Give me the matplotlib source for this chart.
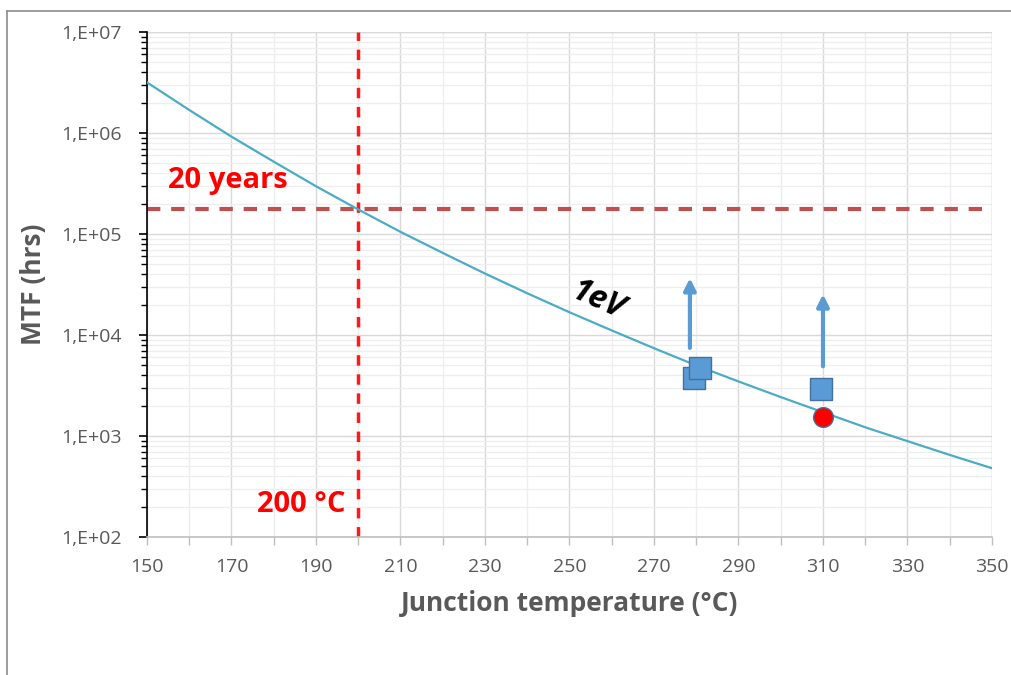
import matplotlib
matplotlib.use("Agg")
import matplotlib.pyplot as plt
from matplotlib.ticker import FixedLocator, LogLocator, NullFormatter
from matplotlib.lines import Line2D

# 1 eV Arrhenius curve
temp = [150, 160, 170, 180, 190, 200, 210, 220, 230, 240, 250,
        260, 270, 280, 290, 300, 310, 320, 330, 340, 350]
mtf = [3.17e6, 1.69e6, 9.2e5, 5.2e5, 2.97e5, 1.75e5, 1.05e5, 6.5e4, 4.06e4,
       2.59e4, 1.68e4, 1.11e4, 7.4e3, 5.0e3, 3.47e3, 2.43e3, 1.72e3, 1.22e3,
       8.9e2, 6.5e2, 4.8e2]

# measured points (squares) and the red point on the curve
sq_t = [279.5, 281.0, 309.5]
sq_mtf = [3.75e3, 4.7e3, 2.9e3]
dot_t = [310]
dot_mtf = [1.55e3]

# arrows: (x, y start, y end)
arrows = [(278.5, 7.0e3, 3.9e4), (310.0, 4.6e3, 2.7e4)]

limit_mtf = 1.75e5   # 20 years
limit_t = 200

yticks = [1e2, 1e3, 1e4, 1e5, 1e6, 1e7]
ylabels = ["1,E+02", "1,E+03", "1,E+04", "1,E+05", "1,E+06", "1,E+07"]
xticks = list(range(150, 351, 20))

plt.rcParams['font.family'] = ['Open Sans', 'DejaVu Sans']
grey = '#595959'

fig = plt.figure(figsize=(10.11, 6.75), dpi=100)
ax = fig.add_axes([0.1454, 0.2044, 0.8358, 0.7482])

ax.set_yscale('log')
ax.set_xlim(150, 350)
ax.set_ylim(1e2, 1e7)

# grid
ax.set_xticks(xticks)
ax.set_xticks(range(160, 350, 20), minor=True)
ax.yaxis.set_major_locator(FixedLocator(yticks))
ax.yaxis.set_minor_locator(LogLocator(base=10, subs=range(2, 10)))
ax.yaxis.set_minor_formatter(NullFormatter())
ax.set_yticklabels(ylabels)
ax.grid(which='major', color='#d9d9d9', lw=1.0)
ax.grid(which='minor', axis='y', color='#eeeeee', lw=0.9)
ax.grid(which='minor', axis='x', color='#eeeeee', lw=1.0)
ax.set_axisbelow(True)

for s in ['top', 'right']:
    ax.spines[s].set_visible(False)
ax.spines['left'].set_color('black')
ax.spines['left'].set_linewidth(1.2)
ax.spines['bottom'].set_color('#bfbfbf')
ax.spines['bottom'].set_linewidth(1.2)
ax.plot([350, 350], [1e2, 1e7], color='#d9d9d9', lw=1.0, zorder=1)
ax.plot([150, 350], [1e7, 1e7], color='#d9d9d9', lw=1.0, zorder=1)

ax.tick_params(axis='y', which='major', direction='out', length=6, width=1.2,
               color='black', labelsize=14, labelcolor=grey, pad=12)
ax.tick_params(axis='y', which='minor', direction='out', length=4, width=1.0,
               color='black')
ax.tick_params(axis='x', which='both', direction='out', length=6, width=1.0,
               color='#bfbfbf', labelsize=14, labelcolor=grey, pad=9)

ax.set_xlabel('Junction temperature (°C)', fontsize=19, fontweight='bold',
              color=grey, labelpad=10)
ax.set_ylabel('MTF (hrs)', fontsize=19, fontweight='bold', color=grey,
              labelpad=10)

# curve
ax.plot(temp, mtf, color='#4bacc6', lw=1.6, zorder=3)

# limits
ax.axhline(limit_mtf, color='#c0504d', lw=3, dashes=(3.2, 2.6), zorder=2)
ax.axvline(limit_t, color='#ff1a1a', lw=2.5, dashes=(3, 2.5), zorder=2)

ax.text(155, 2.45e5, '20 years', color='#ff0000', fontsize=21,
        fontweight='bold', va='bottom', ha='left')
ax.text(197, 1.5e2, '200 °C', color='#ff0000', fontsize=21,
        fontweight='bold', va='bottom', ha='right')
ax.text(256.5, 2.2e4, '1eV', color='black', fontsize=23, fontweight='bold',
        fontstyle='italic', rotation=-24, ha='center', va='center')

# arrows
for x, y0, y1 in arrows:
    ax.annotate('', xy=(x, y1), xytext=(x, y0),
                arrowprops=dict(arrowstyle='-|>,head_width=0.35,head_length=0.7',
                                color='#5b9bd5', lw=3), zorder=4)

# points
ax.scatter(sq_t, sq_mtf, marker='s', s=260, color='#5b9bd5',
           edgecolor='#41719c', linewidth=1, zorder=5)
ax.scatter(dot_t, dot_mtf, marker='o', s=200, color='#ff0000',
           edgecolor='#41719c', linewidth=1, zorder=6)

# outer frame (top and left visible)
fig.add_artist(Line2D([7 / 1011, 7 / 1011], [0, 1 - 11 / 675],
                      color='#8c8c8c', lw=1.2))
fig.add_artist(Line2D([7 / 1011, 1], [1 - 11 / 675, 1 - 11 / 675],
                      color='#8c8c8c', lw=1.2))

fig.savefig('out.png', dpi=100)
